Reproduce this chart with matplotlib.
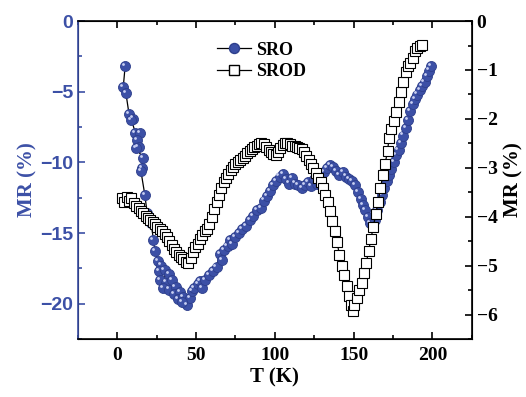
import matplotlib.pyplot as plt
from matplotlib.lines import Line2D
from matplotlib.ticker import MultipleLocator
from matplotlib.transforms import offset_copy

# SRO: temperature (K) and MR (%), left axis
sro_t = [5.0, 3.8, 5.5, 7.5, 10.0, 9.0, 11.5, 14.5, 12.5, 13.5, 12.0, 16.5, 15.5, 15.0,
         17.5, 19.0, 20.0, 21.5, 23.0, 24.0, 26.0, 28.0, 26.5, 30.0, 33.0, 27.0, 31.0,
         35.0, 29.0, 33.0, 37.0, 36.0, 40.0, 38.5, 42.0, 44.5, 46.0, 41.0, 47.5, 49.0,
         51.0, 52.5, 54.0, 56.0, 58.0, 61.0, 63.0, 65.0, 66.5, 68.0, 70.0, 71.5, 73.0,
         75.0, 77.0, 79.0, 82.0, 84.0, 86.0, 88.5, 91.0, 93.0, 95.0, 97.0, 99.0, 101.0,
         103.0, 105.0, 107.0, 109.0, 111.0, 113.0, 115.0, 117.0, 119.0, 121.0, 123.0,
         125.0, 127.0, 129.0, 131.0, 133.0, 135.0, 137.0, 139.0, 141.0, 143.0, 145.0,
         147.0, 149.0, 151.0, 153.0, 154.5, 156.0, 157.5, 159.0, 160.5, 162.0, 163.5,
         165.0, 166.5, 168.0, 169.5, 171.0, 172.5, 174.0, 175.5, 177.0, 178.5, 180.0,
         181.5, 183.0, 184.5, 186.0, 187.5, 189.0, 190.5, 192.0, 193.5, 195.0, 196.5,
         198.0, 199.0]
sro_mr = [-3.2, -4.7, -5.1, -6.6, -6.9, -7.0, -7.9, -7.9, -8.4, -8.9, -9.0, -9.7, -10.4, -10.6,
          -12.3, -13.6, -14.0, -14.3, -15.5, -16.3, -17.0, -17.3, -17.7, -17.6, -17.9, -18.3,
          -18.5, -18.3, -18.9, -19.0, -18.8, -19.3, -19.2, -19.7, -19.5, -20.1, -19.6, -19.9,
          -19.1, -18.9, -18.6, -18.4, -18.9, -18.3, -18.0, -17.7, -17.4, -16.5, -16.9, -16.2,
          -15.9, -15.5, -15.8, -15.3, -15.0, -14.7, -14.5, -14.1, -13.8, -13.4, -13.2, -12.7,
          -12.4, -12.0, -11.6, -11.3, -11.0, -10.8, -11.2, -11.5, -11.1, -11.5, -11.6, -11.8,
          -11.6, -11.4, -11.7, -11.2, -11.5, -11.0, -10.7, -10.4, -10.2, -10.3, -10.6, -10.9,
          -10.7, -11.0, -11.2, -11.3, -11.6, -12.1, -12.6, -13.0, -13.4, -13.9, -14.3, -14.6,
          -14.1, -13.4, -12.8, -12.3, -11.8, -11.3, -10.9, -10.5, -10.0, -9.5, -9.1, -8.6,
          -8.1, -7.6, -7.0, -6.4, -5.9, -5.5, -5.2, -4.9, -4.6, -4.3, -3.9, -3.5, -3.2]

# SROD: temperature (K) and MR (%), right axis
srod_t = [3.0, 4.5, 6.0, 7.5, 9.0, 10.5, 12.0, 13.5, 15.0, 16.5, 18.0, 19.5, 21.0, 22.5,
          24.0, 25.5, 27.0, 28.5, 30.0, 31.5, 33.0, 34.5, 36.0, 37.5, 39.0, 40.5, 42.0,
          43.5, 45.0, 46.5, 48.0, 49.5, 51.0, 52.5, 54.0, 55.5, 57.0, 58.5, 60.0, 61.5,
          63.0, 64.5, 66.0, 67.5, 69.0, 70.5, 72.0, 73.5, 75.0, 76.5, 78.0, 79.5, 81.0,
          82.5, 84.0, 85.5, 87.0, 88.5, 90.0, 91.5, 93.0, 94.5, 96.0, 97.5, 99.0, 100.5,
          102.0, 103.5, 105.0, 106.5, 108.0, 109.5, 111.0, 112.5, 114.0, 115.5, 117.0,
          118.5, 120.0, 121.5, 123.0, 124.5, 126.0, 127.5, 129.0, 130.5, 132.0, 133.5,
          135.0, 136.5, 138.0, 139.5, 141.0, 142.5, 144.0, 145.5, 147.0, 148.5, 149.5,
          150.5, 152.0, 153.5, 155.0, 156.5, 158.0, 159.5, 161.0, 162.5, 164.0, 165.5,
          167.0, 168.5, 170.0, 171.5, 172.5, 174.0, 175.5, 177.0, 178.5, 180.0, 181.5,
          183.0, 184.5, 186.0, 187.5, 189.0, 190.5, 192.0, 193.5]
srod_mr = [-3.62, -3.70, -3.60, -3.68, -3.62, -3.72, -3.78, -3.82, -3.88, -3.92, -3.98, -4.02,
           -4.06, -4.10, -4.15, -4.20, -4.25, -4.30, -4.35, -4.42, -4.50, -4.58, -4.66, -4.72,
           -4.78, -4.82, -4.86, -4.92, -4.95, -4.85, -4.72, -4.62, -4.55, -4.45, -4.38, -4.30,
           -4.25, -4.15, -4.00, -3.85, -3.70, -3.55, -3.42, -3.30, -3.20, -3.12, -3.05, -2.98,
           -2.92, -2.88, -2.84, -2.80, -2.75, -2.70, -2.65, -2.62, -2.58, -2.55, -2.52, -2.50,
           -2.52, -2.58, -2.64, -2.68, -2.72, -2.74, -2.68, -2.60, -2.54, -2.50, -2.50, -2.52,
           -2.55, -2.56, -2.58, -2.60, -2.62, -2.68, -2.76, -2.84, -2.92, -3.00, -3.10, -3.20,
           -3.30, -3.42, -3.56, -3.70, -3.88, -4.08, -4.30, -4.52, -4.78, -5.00, -5.20, -5.42,
           -5.62, -5.80, -5.93, -5.80, -5.66, -5.50, -5.35, -5.15, -4.95, -4.70, -4.45, -4.20,
           -3.95, -3.70, -3.42, -3.15, -2.92, -2.65, -2.40, -2.20, -2.05, -1.85, -1.65, -1.45,
           -1.25, -1.05, -0.92, -0.85, -0.75, -0.62, -0.55, -0.50, -0.48]

blue = '#3c50a6'
serif = 'Liberation Serif'

fig = plt.figure(figsize=(5.26, 3.97), dpi=100)
ax = fig.add_axes([0.148, 0.146, 0.749, 0.801])
ax2 = ax.twinx()

# SRO spheres: line, balls, then small highlight for the shiny look
ax.plot(sro_t, sro_mr, color='black', lw=0.9, zorder=1)
ax.plot(sro_t, sro_mr, ls='none', marker='o', ms=7.2, mfc=blue, mec='#2e3f8c',
        mew=0.6, zorder=2)
hl = offset_copy(ax.transData, fig=fig, x=-1.5, y=1.5, units='points')
ax.plot(sro_t, sro_mr, ls='none', marker='o', ms=2.0, mfc='#c9d0f2', mec='none',
        transform=hl, zorder=3)

ax2.plot(srod_t, srod_mr, color='black', lw=0.9, marker='s', ms=6.8, mfc='white',
         mec='black', mew=0.8)

ax.set_xlim(-25, 225)
ax.set_ylim(-22.5, 0)
ax2.set_ylim(-6.5, 0)

ax.xaxis.set_major_locator(MultipleLocator(50))
ax.xaxis.set_minor_locator(MultipleLocator(25))
ax.yaxis.set_major_locator(MultipleLocator(5))
ax.yaxis.set_minor_locator(MultipleLocator(2.5))
ax2.yaxis.set_major_locator(MultipleLocator(1))
ax2.yaxis.set_minor_locator(MultipleLocator(0.5))

ax.tick_params(axis='x', which='both', direction='in', top=True, width=1.2, pad=6)
ax.tick_params(axis='x', which='major', length=5)
ax.tick_params(axis='x', which='minor', length=3)
ax.tick_params(axis='y', which='both', direction='in', colors=blue, width=1.2)
ax.tick_params(axis='y', which='major', length=5)
ax.tick_params(axis='y', which='minor', length=3)
ax2.tick_params(axis='y', which='both', direction='in', width=1.2)
ax2.tick_params(axis='y', which='major', length=5)
ax2.tick_params(axis='y', which='minor', length=3)

for s in ['top', 'bottom', 'right']:
    ax2.spines[s].set_linewidth(1.2)
ax2.spines['left'].set_color(blue)
ax2.spines['left'].set_linewidth(1.2)

for lab in ax.get_xticklabels():
    lab.set_fontfamily(serif)
    lab.set_fontweight('bold')
    lab.set_fontsize(14)
for lab in ax.get_yticklabels():
    lab.set_fontfamily('Liberation Sans')
    lab.set_fontweight('bold')
    lab.set_fontsize(14)
    lab.set_color(blue)
for lab in ax2.get_yticklabels():
    lab.set_fontfamily(serif)
    lab.set_fontweight('bold')
    lab.set_fontsize(14)

ax.set_xlabel('T (K)', fontfamily=serif, fontweight='bold', fontsize=15, labelpad=2)
ax.set_ylabel('MR (%)', fontfamily=serif, fontweight='bold', fontsize=15, color=blue,
              labelpad=2)
ax2.set_ylabel('MR (%)', fontfamily=serif, fontweight='bold', fontsize=15, labelpad=4)

h1 = Line2D([], [], color='black', lw=0.9, marker='o', ms=7.2, mfc=blue, mec='#2e3f8c')
h2 = Line2D([], [], color='black', lw=0.9, marker='s', ms=6.8, mfc='white', mec='black')
ax2.legend([h1, h2], ['SRO', 'SROD'], loc='upper left', bbox_to_anchor=(0.32, 0.975),
           frameon=False, handlelength=1.9, handletextpad=0.3, labelspacing=0.25,
           borderpad=0.2, prop={'family': serif, 'weight': 'bold', 'size': 13})

fig.savefig('out.png', dpi=100)
